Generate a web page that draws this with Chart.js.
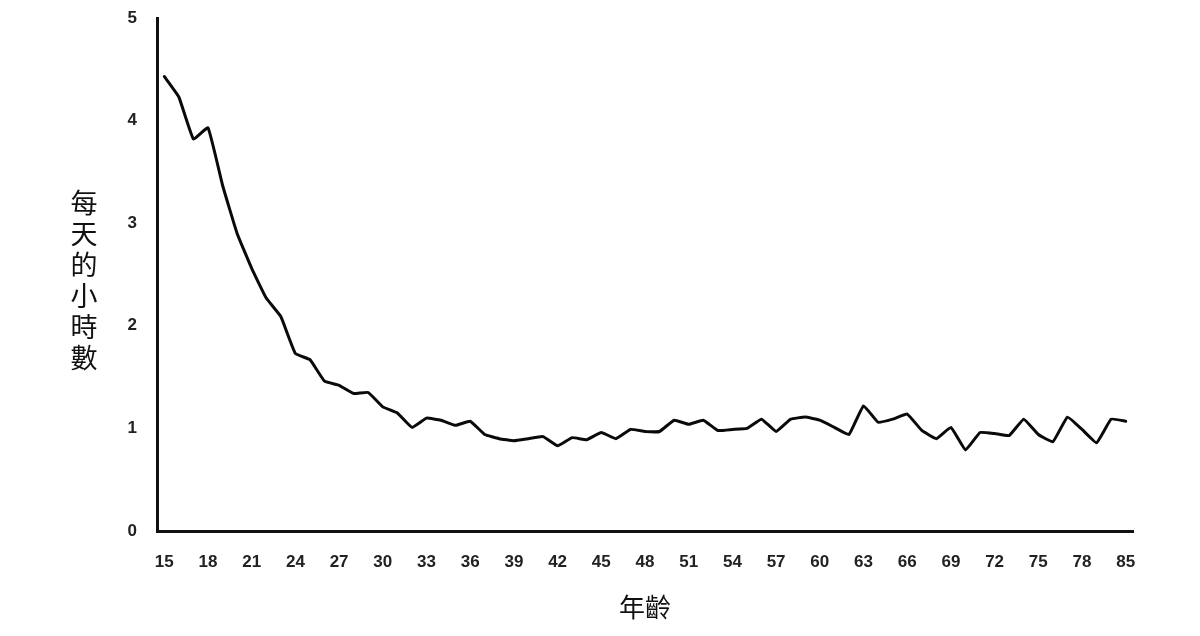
<!DOCTYPE html>
<html>
<head>
<meta charset="utf-8">
<script src="https://cdn.jsdelivr.net/npm/chart.js@4"></script>
<style>
  html, body { margin: 0; padding: 0; background: #ffffff; }
  #wrap { width: 1200px; height: 636px; position: relative; }
</style>
</head>
<body>
<div id="wrap"><canvas id="c" width="1200" height="636"></canvas></div>
<script>
// Categories (age); last group labelled 85
const ages = [15,16,17,18,19,20,21,22,23,24,25,26,27,28,29,30,31,32,33,34,35,36,37,38,39,40,
  41,42,43,44,45,46,47,48,49,50,51,52,53,54,55,56,57,58,59,60,61,62,63,64,65,66,67,68,69,70,
  71,72,73,74,75,76,77,78,79,80,85];
// Hours per day
const hours = [4.43,4.23,3.82,3.93,3.37,2.90,2.56,2.27,2.09,1.73,1.67,1.46,1.42,1.34,1.35,1.21,
  1.15,1.01,1.10,1.08,1.03,1.07,0.94,0.90,0.88,0.90,0.92,0.83,0.91,0.89,0.96,0.90,0.99,0.97,
  0.97,1.08,1.04,1.08,0.98,0.99,1.00,1.09,0.97,1.09,1.11,1.08,1.01,0.94,1.22,1.06,1.09,1.14,
  0.98,0.90,1.01,0.79,0.96,0.95,0.93,1.09,0.94,0.87,1.11,0.99,0.86,1.09,1.07];
const yTicks = [0,1,2,3,4,5];
const xTitle = '年齡';
const yTitle = '每天的小時數';

const tickFont = { family: '"Liberation Sans", Arial, sans-serif', size: 17, weight: 'bold' };
const cjk = '"Noto Sans CJK TC", "Noto Sans CJK SC", sans-serif';

const verticalTitle = {
  id: 'verticalTitle',
  afterDraw(chart) {
    const ctx = chart.ctx;
    ctx.save();
    ctx.font = '27px ' + cjk;
    ctx.fillStyle = '#111';
    ctx.textAlign = 'center';
    ctx.textBaseline = 'middle';
    const chars = Array.from(yTitle);
    const step = 31;
    const cy = (chart.chartArea.top + chart.chartArea.bottom) / 2 + 6;
    const start = cy - step * (chars.length - 1) / 2;
    chars.forEach((ch, i) => ctx.fillText(ch, 84, start + i * step));
    ctx.restore();
  }
};

new Chart(document.getElementById('c'), {
  type: 'line',
  data: {
    labels: ages,
    datasets: [{
      data: hours,
      borderColor: '#0a0a0a',
      borderWidth: 3,
      pointRadius: 0,
      tension: 0.1,
      fill: false,
      borderJoinStyle: 'round',
      borderCapStyle: 'round'
    }]
  },
  options: {
    responsive: false,
    animation: false,
    devicePixelRatio: 1,
    layout: { padding: { top: 18, right: 67, bottom: 0, left: 0 } },
    plugins: { legend: { display: false }, tooltip: { enabled: false } },
    scales: {
      x: {
        type: 'category',
        offset: true,
        grid: { display: false, drawTicks: false },
        border: { display: true, color: '#111', width: 3 },
        ticks: {
          autoSkip: false,
          maxRotation: 0,
          padding: 21,
          color: '#222',
          font: tickFont,
          callback: function(value, index) { return index % 3 === 0 ? this.getLabelForValue(value) : ''; }
        },
        title: { display: true, text: xTitle, color: '#111', font: { family: cjk, size: 26 }, padding: { top: 0, bottom: 13 } },
        afterFit(scale) { scale.height = 105; }
      },
      y: {
        min: 0, max: 5,
        afterBuildTicks(scale) { scale.ticks = yTicks.map(v => ({ value: v })); },
        grid: { display: false, drawTicks: false },
        border: { display: true, color: '#111', width: 3 },
        ticks: { padding: 20, color: '#222', font: tickFont },
        afterFit(scale) { scale.width = 157; scale.paddingTop = 0; scale.paddingBottom = 0; }
      }
    }
  },
  plugins: [verticalTitle]
});
</script>
</body>
</html>
